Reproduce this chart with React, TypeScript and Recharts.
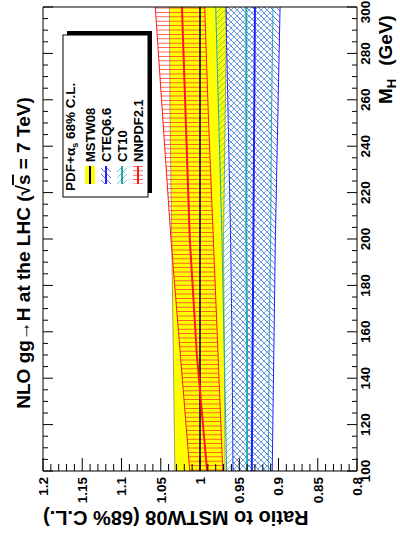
import React from "react";
import { Area, ComposedChart, Line, XAxis, YAxis } from "recharts";

// Higgs mass points (GeV)
const MASS = [100, 150, 200, 250, 300];

// ratio to MSTW08, 68% C.L. bands
const MSTW08_LO = [0.968, 0.969, 0.97, 0.968, 0.966];
const MSTW08_HI = [1.032, 1.034, 1.036, 1.038, 1.039];
const MSTW08_MID = [1, 1, 1, 1, 1];

const CTEQ66_LO = [0.908, 0.906, 0.904, 0.901, 0.898];
const CTEQ66_HI = [0.958, 0.959, 0.961, 0.964, 0.967];
const CTEQ66_MID = [0.934, 0.933, 0.932, 0.931, 0.93];

const CT10_LO = [0.913, 0.912, 0.91, 0.909, 0.907];
const CT10_HI = [0.966, 0.969, 0.972, 0.976, 0.98];
const CT10_MID = [0.94, 0.94, 0.941, 0.941, 0.941];

const NNPDF21_LO = [0.971, 0.977, 0.983, 0.989, 0.994];
const NNPDF21_HI = [1.013, 1.025, 1.037, 1.047, 1.057];
const NNPDF21_MID = [0.991, 1.004, 1.013, 1.018, 1.023];

const MASS_LABELS = [100, 120, 140, 160, 180, 200, 220, 240, 260, 280, 300];
const RATIO_LABELS = ["0.8", "0.85", "0.9", "0.95", "1", "1.05", "1.1", "1.15", "1.2"];

const LEGEND = [
  { name: "MSTW08", fill: "#ffff00", line: "#000000" },
  { name: "CTEQ6.6", fill: "url(#hatchCteq)", line: "#2020ff" },
  { name: "CT10", fill: "url(#hatchCt10)", line: "#21a9b0" },
  { name: "NNPDF2.1", fill: "url(#hatchNnpdf)", line: "#ff1a1a" },
];

const data = MASS.map((mh, i) => ({
  mh,
  mstw: [MSTW08_LO[i], MSTW08_HI[i]],
  mstwMid: MSTW08_MID[i],
  cteq: [CTEQ66_LO[i], CTEQ66_HI[i]],
  cteqMid: CTEQ66_MID[i],
  ct10: [CT10_LO[i], CT10_HI[i]],
  ct10Mid: CT10_MID[i],
  nnpdf: [NNPDF21_LO[i], NNPDF21_HI[i]],
  nnpdfMid: NNPDF21_MID[i],
}));

// minor ticks every 5 GeV / 0.01
const massTicks: number[] = [];
for (let m = 100; m <= 300; m += 5) massTicks.push(m);
const ratioTicks: number[] = [];
for (let i = 80; i <= 120; i++) ratioTicks.push(i / 100);

const FONT = { fontFamily: "'Liberation Sans', Arial, Helvetica, sans-serif" };
const W = 547;
const H = 400;

function MassTick(props: any) {
  const { x, y, payload, side } = props;
  const v = Math.round(payload.value);
  const major = v % 20 === 0;
  const d = side === "bottom" ? -1 : 1;
  // keep the last label inside the canvas
  const tx = Math.min(x, W - 12);
  return (
    <g>
      <line x1={x} y1={y} x2={x} y2={y + d * (major ? 10 : 5)} stroke="#000" strokeWidth={1} />
      {side === "bottom" && major && MASS_LABELS.includes(v) && (
        <text x={tx} y={y + 13} textAnchor="middle" fontSize={13.5} fontWeight="bold" fill="#000" style={FONT}>
          {v}
        </text>
      )}
    </g>
  );
}

function RatioTick(props: any) {
  const { x, y, payload, side } = props;
  const hundredths = Math.round(payload.value * 100);
  const major = hundredths % 5 === 0;
  const d = side === "left" ? 1 : -1;
  const label = RATIO_LABELS.find((s) => Math.round(parseFloat(s) * 100) === hundredths);
  return (
    <g>
      <line x1={x} y1={y} x2={x + d * (major ? 13 : 7)} y2={y} stroke="#000" strokeWidth={1} />
      {side === "left" && major && label && (
        <text x={x - 6} y={y} dy="0.36em" textAnchor="end" fontSize={13.5} fontWeight="bold" fill="#000" style={FONT}>
          {label}
        </text>
      )}
    </g>
  );
}

function Overlay() {
  return (
    <svg width={W} height={H} style={{ position: "absolute", left: 0, top: 0, pointerEvents: "none", ...FONT }}>
      <text x={294} y={30} textAnchor="middle" fontSize={19} fontWeight="bold">
        NLO gg→H at the LHC (√<tspan style={{ textDecoration: "overline" }}>s</tspan> = 7 TeV)
      </text>
      <text x={36} y={43} transform="rotate(-90 36 43)" textAnchor="end" fontSize={20} fontWeight="bold">
        Ratio to MSTW08 (68% C.L.)
      </text>
      <text x={443} y={392} fontSize={19} fontWeight="bold">
        M<tspan dy={4} fontSize={13}>H</tspan>
        <tspan dy={-4} dx={13}>(GeV)</tspan>
      </text>

      {/* legend box with shadow */}
      <rect x={354} y={67} width={162} height={85} fill="#000" />
      <rect x={350} y={63} width={162} height={85} fill="#fff" stroke="#000" strokeWidth={1} />
      <text x={356} y={75} fontSize={13.5} fontWeight="bold">
        PDF+α<tspan dy={3} fontSize={9}>s</tspan>
        <tspan dy={-3}> 68% C.L.</tspan>
      </text>
      {LEGEND.map((e, i) => {
        const cy = 90 + i * 16;
        return (
          <g key={e.name}>
            <rect x={363} y={cy - 5} width={18} height={10} fill={e.fill} />
            <line x1={363} y1={cy} x2={381} y2={cy} stroke={e.line} strokeWidth={2} />
            <text x={385} y={cy + 4.6} fontSize={13} fontWeight="bold">
              {e.name}
            </text>
          </g>
        );
      })}
    </svg>
  );
}

export default function App() {
  return (
    <div style={{ position: "absolute", left: 0, top: 0, width: 400, height: 547, overflow: "hidden", background: "#fff" }}>
      <div
        style={{
          position: "absolute",
          left: 0,
          top: 0,
          width: W,
          height: H,
          transformOrigin: "0 0",
          transform: `translate(0px, ${W}px) rotate(-90deg)`,
        }}
      >
        <svg width={0} height={0} style={{ position: "absolute" }}>
          <defs>
            <pattern id="hatchNnpdf" patternUnits="userSpaceOnUse" width={4.4} height={10}>
              <path d="M2.2,0 V10" stroke="#ff3333" strokeWidth={0.8} />
            </pattern>
            <pattern id="hatchCteq" patternUnits="userSpaceOnUse" width={6} height={6}>
              <path d="M0,6 L6,0 M-1,1 L1,-1 M5,7 L7,5" stroke="#3030ff" strokeWidth={0.7} />
            </pattern>
            <pattern id="hatchCt10" patternUnits="userSpaceOnUse" width={6} height={6}>
              <path d="M0,0 L6,6 M-1,5 L1,7 M5,-1 L7,1" stroke="#30b0b0" strokeWidth={0.7} />
            </pattern>
          </defs>
        </svg>

        <ComposedChart width={W} height={H} data={data} margin={{ top: 42, right: 6, bottom: 0, left: 0 }}>
          <XAxis
            dataKey="mh"
            type="number"
            domain={[100, 300]}
            ticks={massTicks}
            interval={0}
            height={43}
            tickSize={0}
            tickMargin={0}
            tickLine={false}
            axisLine={{ stroke: "#000" }}
            tick={(p: any) => <MassTick {...p} side="bottom" />}
          />
          <XAxis
            xAxisId="top"
            orientation="top"
            dataKey="mh"
            type="number"
            domain={[100, 300]}
            ticks={massTicks}
            interval={0}
            height={1}
            tickSize={0}
            tickMargin={0}
            tickLine={false}
            axisLine={{ stroke: "#000" }}
            tick={(p: any) => <MassTick {...p} side="top" />}
          />
          <YAxis
            type="number"
            domain={[0.8, 1.2]}
            ticks={ratioTicks}
            interval={0}
            width={76}
            tickSize={0}
            tickMargin={0}
            tickLine={false}
            axisLine={{ stroke: "#000" }}
            tick={(p: any) => <RatioTick {...p} side="left" />}
          />
          <YAxis
            yAxisId="right"
            orientation="right"
            type="number"
            domain={[0.8, 1.2]}
            ticks={ratioTicks}
            interval={0}
            width={1}
            tickSize={0}
            tickMargin={0}
            tickLine={false}
            axisLine={{ stroke: "#000" }}
            tick={(p: any) => <RatioTick {...p} side="right" />}
          />

          <Area type="linear" dataKey="mstw" fill="#ffff00" fillOpacity={1} stroke="#444" strokeWidth={0.5} dot={false} activeDot={false} isAnimationActive={false} />
          <Area type="linear" dataKey="cteq" fill="url(#hatchCteq)" fillOpacity={1} stroke="#2020ff" strokeWidth={1} dot={false} activeDot={false} isAnimationActive={false} />
          <Area type="linear" dataKey="ct10" fill="url(#hatchCt10)" fillOpacity={1} stroke="#21a9b0" strokeWidth={1} dot={false} activeDot={false} isAnimationActive={false} />
          <Area type="linear" dataKey="nnpdf" fill="url(#hatchNnpdf)" fillOpacity={1} stroke="#ff1a1a" strokeWidth={1} dot={false} activeDot={false} isAnimationActive={false} />

          <Line type="linear" dataKey="mstwMid" stroke="#000" strokeWidth={1.5} dot={false} activeDot={false} isAnimationActive={false} />
          <Line type="linear" dataKey="cteqMid" stroke="#2020ff" strokeWidth={2} dot={false} activeDot={false} isAnimationActive={false} />
          <Line type="linear" dataKey="ct10Mid" stroke="#21a9b0" strokeWidth={2} dot={false} activeDot={false} isAnimationActive={false} />
          <Line type="linear" dataKey="nnpdfMid" stroke="#ff1a1a" strokeWidth={2} dot={false} activeDot={false} isAnimationActive={false} />
        </ComposedChart>

        <Overlay />
      </div>
    </div>
  );
}
